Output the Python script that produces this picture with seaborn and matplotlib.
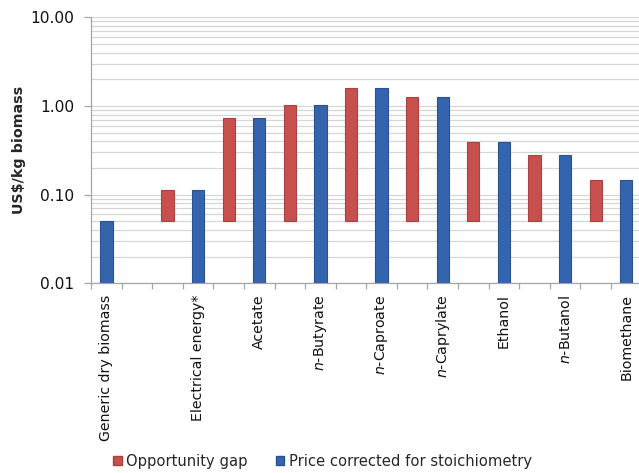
import matplotlib
matplotlib.use("Agg")
import matplotlib.pyplot as plt
from matplotlib.patches import Patch
from matplotlib.ticker import FixedLocator, NullFormatter, FuncFormatter
import numpy as np
import pandas as pd
import seaborn as sns

# Products, price corrected for stoichiometry (US$/kg biomass)
products = ["Generic dry biomass", "Electrical energy*", "Acetate", "n-Butyrate",
            "n-Caproate", "n-Caprylate", "Ethanol", "n-Butanol", "Biomethane"]
tick_labels = ["Generic dry biomass", "Electrical energy*", "Acetate",
               "$\\it{n}$-Butyrate", "$\\it{n}$-Caproate", "$\\it{n}$-Caprylate",
               "Ethanol", "$\\it{n}$-Butanol", "Biomethane"]
price = [0.05, 0.114, 0.74, 1.03, 1.59, 1.25, 0.39, 0.283, 0.146]
# Opportunity gap: floating bar from the biomass price up to the product price
gap_base = 0.05
gap_top = [None, 0.114, 0.74, 1.03, 1.59, 1.25, 0.39, 0.283, 0.146]

RED = "#C7504E"
BLUE = "#3364AD"

sns.set_theme(style="white")
plt.rcParams["font.family"] = ["DejaVu Sans"]

fig = plt.figure(figsize=(6.39, 4.73), dpi=100)
n_slots = 18
ax = fig.add_axes([91.1 / 639, 1 - 283.3 / 473, 550.4 / 639, (283.3 - 17.3) / 473])

# each product occupies two slots: gap bar then price bar
blue_slot = [0] + [2 * i + 1 for i in range(1, len(products))]
red_slot = [2 * i for i in range(1, len(products))]
slot_names = [f"s{i}" for i in range(n_slots)]

blue_df = pd.DataFrame({"slot": [slot_names[s] for s in blue_slot], "value": price})
sns.barplot(data=blue_df, x="slot", y="value", order=slot_names, color=BLUE,
            width=0.4, saturation=1, edgecolor="#29538F", linewidth=0.8, ax=ax,
            errorbar=None)

red_heights = [t - gap_base for t in gap_top if t is not None]
ax.bar(red_slot, red_heights, bottom=gap_base, width=0.4, color=RED,
       edgecolor="#A84240", linewidth=0.8, zorder=3)

ax.set_yscale("log")
ax.set_ylim(0.01, 10)
ax.set_xlim(-0.5, n_slots - 0.5)

major = [0.01, 0.1, 1, 10]
minor = [m * d for d in [0.01, 0.1, 1] for m in range(2, 10)]
ax.yaxis.set_major_locator(FixedLocator(major))
ax.yaxis.set_minor_locator(FixedLocator(minor))
ax.yaxis.set_major_formatter(FuncFormatter(lambda v, p: f"{v:.2f}"))
ax.yaxis.set_minor_formatter(NullFormatter())
ax.grid(True, which="both", axis="y", color="#D6D6D6", linewidth=0.9, zorder=0)
ax.set_axisbelow(True)
for b in ax.patches:
    b.set_zorder(3)

ax.set_xticks(blue_slot)
ax.set_xticklabels(tick_labels, rotation=90, fontsize=10.2, color="#111111")
ax.set_xticks(np.arange(-0.5, n_slots, 1.0), minor=True)
ax.tick_params(axis="x", which="major", length=0, pad=8)
ax.tick_params(axis="x", which="minor", length=4, color="#A6A6A6", width=0.9,
               bottom=True)
ax.tick_params(axis="y", which="major", length=5, color="#A6A6A6", width=0.9,
               labelsize=11.2, left=True, pad=7, labelcolor="#111111")
ax.tick_params(axis="y", which="minor", length=0)

for s in ["top", "right"]:
    ax.spines[s].set_visible(False)
for s in ["left", "bottom"]:
    ax.spines[s].set_color("#A6A6A6")
    ax.spines[s].set_linewidth(0.9)

ax.set_xlabel("")
ax.set_ylabel("US$/kg biomass", fontsize=10.3, fontweight="bold", labelpad=3)

handles = [Patch(facecolor=RED, edgecolor="#A84240", label="Opportunity gap"),
           Patch(facecolor=BLUE, edgecolor="#29538F",
                 label="Price corrected for stoichiometry")]
fig.legend(handles=handles, loc="center left", bbox_to_anchor=(107 / 639, 1 - 461 / 473),
           ncol=2, frameon=False, fontsize=10.6, handlelength=0.6, handleheight=0.6,
           handletextpad=0.3, columnspacing=1.9, borderaxespad=0)

fig.savefig("out.png", dpi=100)
